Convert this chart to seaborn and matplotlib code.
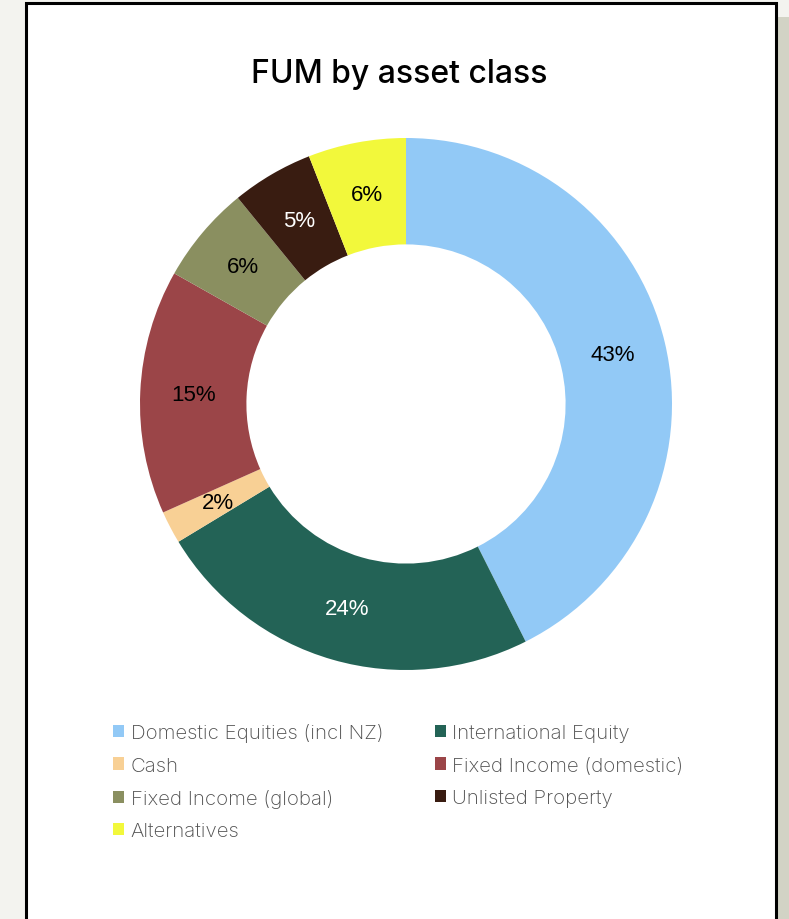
import matplotlib
matplotlib.use("Agg")
import matplotlib.pyplot as plt
from matplotlib.patches import Rectangle, Patch
import numpy as np
import seaborn as sns

# FUM share by asset class (%)
categories = [
    "Domestic Equities (incl NZ)",
    "International Equity",
    "Cash",
    "Fixed Income (domestic)",
    "Fixed Income (global)",
    "Unlisted Property",
    "Alternatives",
]
shares = [43, 24, 2, 15, 6, 5, 6]
colors = ["#92c9f6", "#236356", "#f8d095", "#9b4548", "#8a8f60", "#391c11", "#f2f83b"]
label_colors = ["black", "white", "black", "black", "black", "white", "black"]

sns.set_theme(style="white")
plt.rcParams["font.family"] = ["Inter", "DejaVu Sans"]

W, H = 789, 920
fig = plt.figure(figsize=(W / 100, H / 100), dpi=100, facecolor="#f3f3ef")

# card shadow and white card with dark border
fig.patches.append(Rectangle((777 / W, 0), (W - 777) / W, (H - 18) / H,
                             transform=fig.transFigure, facecolor="#d2d3c5",
                             edgecolor="none", zorder=0))
fig.patches.append(Rectangle((26 / W, -0.01), (776 - 26) / W, (H - 4) / H + 0.01,
                             transform=fig.transFigure, facecolor="white",
                             edgecolor="black", linewidth=2.2, zorder=1))

cx, cy, r = 406, 405, 266
ax = fig.add_axes([(cx - r) / W, (H - cy - r) / H, 2 * r / W, 2 * r / H])
ax.set_zorder(2)
wedges, _ = ax.pie(
    shares,
    colors=colors,
    startangle=90,
    counterclock=False,
    radius=1.0,
    wedgeprops=dict(width=0.4, linewidth=0),
)
for w, val, tc in zip(wedges, shares, label_colors):
    mid = np.deg2rad((w.theta1 + w.theta2) / 2)
    ax.text(0.8 * np.cos(mid), 0.8 * np.sin(mid), f"{val}%",
            ha="center", va="center", fontsize=16, color=tc,
            family=["Liberation Sans", "DejaVu Sans"])
ax.set_xlim(-1, 1)
ax.set_ylim(-1, 1)
ax.axis("off")

fig.text(399 / W, 1 - 74 / H, "FUM by asset class", ha="center", va="center",
         fontsize=23, fontweight="medium", color="black", zorder=3)

# legend laid out row by row in two columns
order = [0, 2, 4, 6, 1, 3, 5]
handles = [Patch(facecolor=colors[i], edgecolor="none") for i in order]
labels = [categories[i] for i in order]
leg = fig.legend(handles, labels, ncol=2, loc="upper left",
                 bbox_to_anchor=(95 / W, 1 - 706 / H), frameon=False,
                 fontsize=14.7, handlelength=0.54, handleheight=0.54,
                 handletextpad=0.3, columnspacing=2.55, labelspacing=0.7,
                 labelcolor="#4f4f4f")
for t in leg.get_texts():
    t.set_fontweight("light")
leg.set_zorder(3)

fig.savefig("out.png", dpi=100, facecolor=fig.get_facecolor())
